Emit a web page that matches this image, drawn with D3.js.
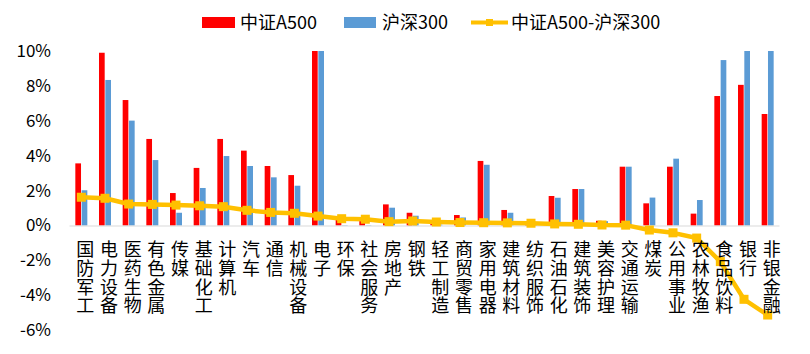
<!DOCTYPE html>
<html>
<head>
<meta charset="utf-8">
<script src="https://cdn.jsdelivr.net/npm/d3@7"></script>
<style>
    body { margin: 0; background: #fff; }
    text { font-family: "Noto Sans CJK SC", "Noto Sans", sans-serif; fill: #000; }
</style>
</head>
<body>
<div id="chart"></div>
<script>
// industries (SW level 1)
const categories = ["国防军工", "电力设备", "医药生物", "有色金属", "传媒", "基础化工", "计算机", "汽车", "通信", "机械设备",
    "电子", "环保", "社会服务", "房地产", "钢铁", "轻工制造", "商贸零售", "家用电器", "建筑材料", "纺织服饰",
    "石油石化", "建筑装饰", "美容护理", "交通运输", "煤炭", "公用事业", "农林牧渔", "食品饮料", "银行", "非银金融"];
const a500 = [3.56, 9.90, 7.19, 4.96, 1.86, 3.30, 4.96, 4.29, 3.41, 2.89,
    12.5, 0.35, 0.35, 1.21, 0.73, 0.25, 0.60, 3.70, 0.89, 0.15,
    1.69, 2.09, 0.27, 3.37, 1.27, 3.37, 0.68, 7.42, 8.06, 6.39];
const hs300 = [2.02, 8.34, 6.01, 3.75, 0.73, 2.15, 3.98, 3.41, 2.76, 2.28,
    12.0, 0.02, 0.02, 1.02, 0.56, 0.05, 0.46, 3.48, 0.73, 0.03,
    1.59, 2.09, 0.25, 3.37, 1.60, 3.83, 1.46, 9.48, 12.3, 11.5];
const diff = [1.62, 1.56, 1.23, 1.21, 1.17, 1.13, 1.08, 0.87, 0.75, 0.70,
    0.54, 0.39, 0.36, 0.22, 0.26, 0.20, 0.17, 0.16, 0.15, 0.13,
    0.09, 0.07, 0.03, 0.02, -0.26, -0.42, -0.72, -2.07, -4.23, -5.13];
const yTicks = [-6, -4, -2, 0, 2, 4, 6, 8, 10];
const seriesNames = ["中证A500", "沪深300", "中证A500-沪深300"];

const width = 810, height = 354;
const red = "#FF0000", blue = "#5B9BD5", gold = "#FFC000";

var svg = d3.select("#chart")
    .append("svg")
    .attr("width", width)
    .attr("height", height);

var x = d3.scaleBand()
    .domain(categories)
    .range([69.5, 779.5]);

var y = d3.scaleLinear()
    .domain([-6, 10])
    .range([330.2, 51])
    .clamp(true);

var xSub = d3.scaleBand()
    .domain(["a500", "hs300"])
    .range([-6, 6])
    .paddingInner(0.1);

const cx = d => x(d) + x.bandwidth() / 2;

// y tick labels (no axis line in reference)
svg.append("g")
    .selectAll("text")
    .data(yTicks)
    .enter().append("text")
    .attr("x", 51)
    .attr("y", d => y(d))
    .attr("dy", "0.35em")
    .style("text-anchor", "end")
    .style("font-size", "17px")
    .text(d => d + "%");

// bars
var rows = categories.map((c, i) => ({ c: c, a500: a500[i], hs300: hs300[i] }));
[["a500", red], ["hs300", blue]].forEach(([key, color]) => {
    svg.append("g")
        .selectAll("rect")
        .data(rows)
        .enter().append("rect")
        .attr("x", d => cx(d.c) + xSub(key))
        .attr("width", xSub.bandwidth())
        .attr("y", d => y(Math.max(0, d[key])))
        .attr("height", d => Math.abs(y(d[key]) - y(0)))
        .attr("fill", color);
});

// category axis line
svg.append("line")
    .attr("x1", x.range()[0])
    .attr("x2", x.range()[1])
    .attr("y1", y(0) + 0.5)
    .attr("y2", y(0) + 0.5)
    .attr("stroke", "#D9D9D9")
    .attr("stroke-width", 1);

// difference line
var line = d3.line()
    .x((d, i) => cx(categories[i]))
    .y(d => y(d));

svg.append("path")
    .attr("d", line(diff))
    .attr("fill", "none")
    .attr("stroke", gold)
    .attr("stroke-width", 4.5)
    .attr("stroke-linejoin", "round");

svg.append("g")
    .selectAll("rect")
    .data(diff)
    .enter().append("rect")
    .attr("x", (d, i) => cx(categories[i]) - 4.5)
    .attr("y", d => y(d) - 4.5)
    .attr("width", 9)
    .attr("height", 9)
    .attr("fill", gold);

// vertical category labels, one char per line
var labels = svg.append("g")
    .selectAll("text")
    .data(categories)
    .enter().append("text")
    .attr("x", d => cx(d) + 4)
    .attr("y", 250)
    .style("text-anchor", "middle")
    .style("font-size", "18px");

labels.selectAll("tspan")
    .data(d => d.split(""))
    .enter().append("tspan")
    .attr("x", function () { return d3.select(this.parentNode).attr("x"); })
    .attr("y", (d, i) => 250 + i * 18.7)
    .attr("dy", "0.35em")
    .text(d => d);

// legend
var legend = svg.append("g");
legend.append("rect")
    .attr("x", 202).attr("y", 17)
    .attr("width", 33).attr("height", 11)
    .attr("fill", red);
legend.append("rect")
    .attr("x", 344).attr("y", 17)
    .attr("width", 32).attr("height", 11)
    .attr("fill", blue);
legend.append("line")
    .attr("x1", 471).attr("x2", 508)
    .attr("y1", 22.5).attr("y2", 22.5)
    .attr("stroke", gold)
    .attr("stroke-width", 4);
legend.append("rect")
    .attr("x", 486).attr("y", 19)
    .attr("width", 7).attr("height", 7)
    .attr("fill", gold);

legend.selectAll("text")
    .data(seriesNames)
    .enter().append("text")
    .attr("x", (d, i) => [240, 382, 511][i])
    .attr("y", 22.5)
    .attr("dy", "0.35em")
    .style("font-size", "18px")
    .text(d => d);
</script>
</body>
</html>
